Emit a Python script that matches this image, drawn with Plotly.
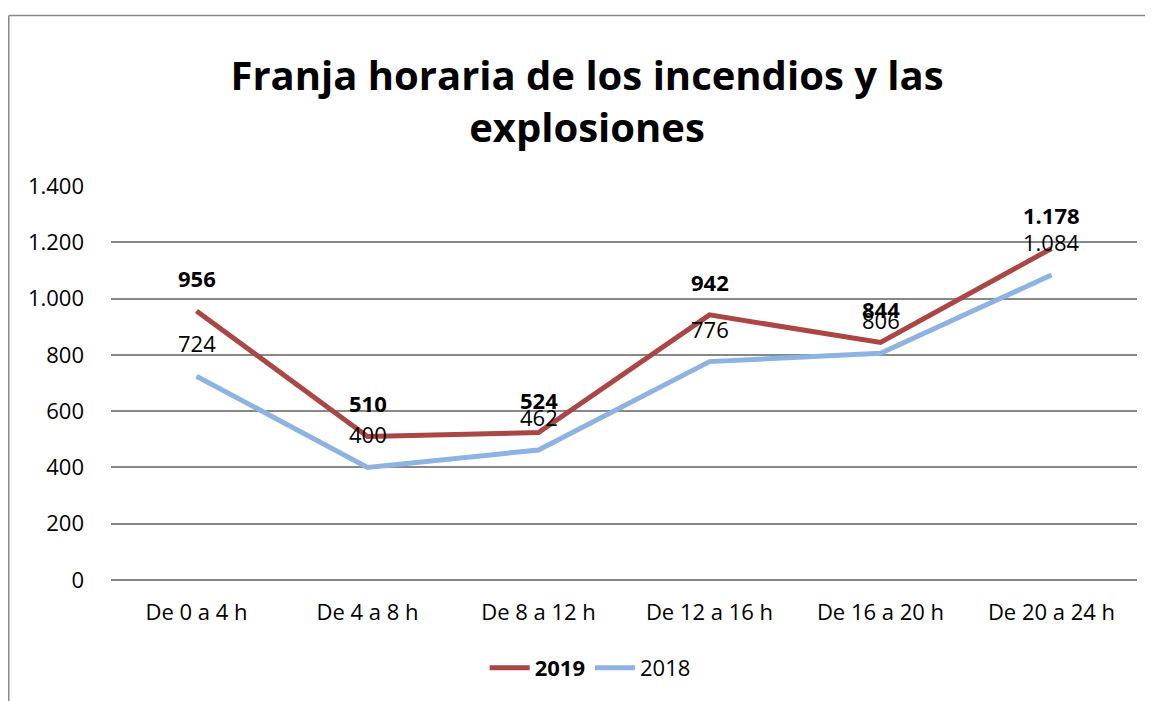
import plotly.graph_objects as go

categories = ["De 0 a 4 h", "De 4 a 8 h", "De 8 a 12 h", "De 12 a 16 h", "De 16 a 20 h", "De 20 a 24 h"]
values_2019 = [956, 510, 524, 942, 844, 1178]
values_2018 = [724, 400, 462, 776, 806, 1084]
tick_vals = [0, 200, 400, 600, 800, 1000, 1200, 1400]

C2019 = "#AA4643"
C2018 = "#8DB3E2"
FONT = "Open Sans, Noto Sans, sans-serif"
FS = 22

def fmt(v):
    return f"{v:,}".replace(",", ".")

fig = go.Figure()
fig.add_trace(go.Scatter(x=categories, y=values_2019, mode="lines", name="<b>2019</b>",
                         line=dict(color=C2019, width=5)))
fig.add_trace(go.Scatter(x=categories, y=values_2018, mode="lines", name="2018",
                         line=dict(color=C2018, width=5)))

for c, v in zip(categories, values_2019):
    fig.add_annotation(x=c, y=v, text=f"<b>{fmt(v)}</b>", showarrow=False, yshift=33,
                       font=dict(size=FS, color="black", family=FONT))
for c, v in zip(categories, values_2018):
    fig.add_annotation(x=c, y=v, text=fmt(v), showarrow=False, yshift=33,
                       font=dict(size=FS, color="black", family=FONT))

# page has an 8px body margin, so figure coords = screen coords - 8
W, H = 1145, 693
L, R, T, B = 103, 16, 178, 121
pw, ph = W - L - R, H - T - B
def px(x): return (x - L) / pw
def py(y): return (H - B - y) / ph

fig.add_shape(type="line", xref="paper", yref="paper", x0=px(0.75), x1=px(1160), y0=py(7.5), y1=py(7.5),
              line=dict(color="#888888", width=1.5))
fig.add_shape(type="line", xref="paper", yref="paper", x0=px(0.75), x1=px(0.75), y0=py(7.5), y1=py(710),
              line=dict(color="#888888", width=1.5))

fig.update_layout(
    width=W, height=H,
    margin=dict(l=L, r=R, t=T, b=B),
    paper_bgcolor="white", plot_bgcolor="white",
    separators=",.",
    title=dict(text="<b>Franja horaria de los incendios y las<br>explosiones</b>",
               x=579 / W, xanchor="center", y=1 - 82 / H, yanchor="middle",
               font=dict(size=40, color="black", family=FONT)),
    font=dict(family=FONT, size=FS, color="black"),
    xaxis=dict(range=[-0.5, 5.5], showgrid=False, showline=False, ticks="",
               tickfont=dict(size=FS), ticklabelstandoff=17),
    yaxis=dict(range=[0, 1400], tickvals=tick_vals, tickformat=",d",
               showgrid=True, gridcolor="#888888", gridwidth=1.5, zeroline=True,
               zerolinecolor="#888888", zerolinewidth=1.5, ticks="", ticklabelstandoff=26,
               tickfont=dict(size=FS)),
    showlegend=True,
    legend=dict(orientation="h", x=0.467, xanchor="center", y=-0.17, yanchor="top",
                font=dict(size=FS, family=FONT), itemwidth=40, tracegroupgap=0),
)

fig.write_html("out.html")
